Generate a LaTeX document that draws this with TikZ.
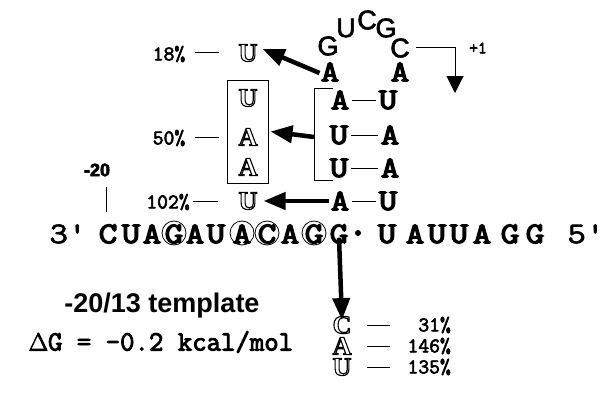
\documentclass[tikz,border=0pt]{standalone}
\usepackage{fontspec}
\setmainfont{Liberation Serif}
\newfontfamily\sansf{Liberation Sans}
\usetikzlibrary{arrows.meta}
% text render modes: 1 = outline only, 2 = fill + stroke (heavier letters)
\newcommand\rmode[3]{\special{pdf:literal direct #1 Tr #2 w}#3\special{pdf:literal direct 0 Tr 1 w}}
\newcommand\hollow[1]{\rmode{1}{1.1}{#1}}
\newcommand\heavy[1]{\scalebox{1.2}[1]{\rmode{2}{1.2}{#1}}}
\newcommand\semi[1]{\rmode{2}{0.6}{#1}}
\tikzset{
  seq/.style={font=\ttfamily\fontsize{30}{30}\selectfont, inner sep=0pt},
  hol/.style={font=\bfseries\fontsize{26}{26}\selectfont, inner sep=0pt},
  pct/.style={font=\ttfamily\fontsize{21}{21}\selectfont, inner sep=0pt},
  looplet/.style={font=\sansf\fontsize{27}{27}\selectfont, inner sep=0pt},
  fat/.style={line width=4.5pt, -{Triangle[length=22pt,width=17pt]}},
  thinline/.style={line width=1pt},
}
\begin{document}
\begin{tikzpicture}[x=1pt,y=-1pt]
\useasboundingbox (0,0) rectangle (607,396);

% ---- hairpin loop ----
\node[seq] (la1) at (330,72) {\heavy{A}};
\node[seq] (la2) at (400,72) {\heavy{A}};
\node[looplet] (lg1) at (328,46) {\semi{G}};
\node[looplet] (lu)  at (346,28) {\semi{U}};
\node[looplet] (lc1) at (367,20) {\semi{C}};
\node[looplet] (lg2) at (386,28) {\semi{G}};
\node[looplet] (lc2) at (400,48) {\semi{C}};

% +1 start marker
\coordinate (tss) at (455,93);
\draw[thinline, -{Triangle[length=17pt,width=17pt]}] ([xshift=6pt]lc2.east) -| (tss);
\node[font=\ttfamily\fontsize{17}{17}\selectfont, inner sep=0pt] (plus) at (478,48) {\semi{+1}};

% ---- stem ----
\node[seq] (h1a) at (340,100) {\heavy{A}}; \node[seq] (h1b) at (388,100) {\heavy{U}};
\node[seq] (h2a) at (339,135) {\heavy{U}}; \node[seq] (h2b) at (390,135) {\heavy{A}};
\node[seq] (h3a) at (339,168) {\heavy{U}}; \node[seq] (h3b) at (390,168) {\heavy{A}};
\node[seq] (h4a) at (340,201) {\heavy{A}}; \node[seq] (h4b) at (388,201) {\heavy{U}};
\foreach \r in {1,2,3,4}
  \draw[thinline] ([xshift=3pt]h\r a.east) -- ([xshift=-3pt]h\r b.west);

% bracket over the three middle pairs
\coordinate (brk) at (314,137);
\draw[thinline] (333,88) -| (314,180) -- (333,180);

% ---- substituted bases ----
\node[hol] (topU) at (248,53) {\hollow{U}};
\node[draw, thinline, minimum width=41pt, minimum height=103pt, inner sep=0pt] (box) at (247.5,131.5) {};
\node[hol] (bu) at (248,98) {\hollow{U}};
\node[hol] (ba1) at (248,137) {\hollow{A}};
\node[hol] (ba2) at (248,167) {\hollow{A}};
\node[hol] (lowU) at (248,201) {\hollow{U}};

\draw[fat] ([xshift=-1pt,yshift=-1pt]la1.west) -- ([xshift=5pt,yshift=4pt]topU.east);
\draw[fat] (brk) -- ([xshift=2pt]box.east);
\draw[fat] ([xshift=-2pt]h4a.west) -- ([xshift=6pt]lowU.east);

% percentages on the left
\node[pct] (p18) at (169,54) {\semi{18\%}};
\draw[thinline] (195,53) -- (219,53);
\node[pct] (p50) at (169,138) {\semi{50\%}};
\draw[thinline] (195,137) -- (219,137);
\node[pct] (p102) at (168,202) {\semi{102\%}};
\draw[thinline] (193,201) -- (218,201);

% -20 position mark
\node[font=\sansf\bfseries\fontsize{18}{18}\selectfont, inner sep=0pt] (m20) at (97,170) {\semi{-20}};
\draw[thinline] (106,187) -- (106,212);

% ---- template strand ----
\node[seq] (t3) at (68,234) {\scalebox{1.2}[1]{\semi{3'}}};
\node[seq] (s1)  at (108,234) {\heavy{C}};
\node[seq] (s2)  at (131,234) {\heavy{U}};
\node[seq] (s3)  at (152,234) {\heavy{A}};
\node[seq] (s4)  at (174,234) {\heavy{G}};
\node[seq] (s5)  at (195,234) {\heavy{A}};
\node[seq] (s6)  at (216,234) {\heavy{U}};
\node[seq] (s7)  at (242,234) {\heavy{A}};
\node[seq] (s8)  at (267,234) {\heavy{C}};
\node[seq] (s9)  at (290,234) {\heavy{A}};
\node[seq] (s10) at (314,234) {\heavy{G}};
\node[seq] (s11) at (339,234) {\heavy{G}};
\fill (358,233) circle[radius=3pt];
\node[seq] (r1) at (387,234) {\heavy{U}};
\node[seq] (r2) at (415,234) {\heavy{A}};
\node[seq] (r3) at (437,234) {\heavy{U}};
\node[seq] (r4) at (459,234) {\heavy{U}};
\node[seq] (r5) at (482,234) {\heavy{A}};
\node[seq] (r6) at (510,234) {\heavy{G}};
\node[seq] (r7) at (535,234) {\heavy{G}};
\node[seq] (t5) at (586,234) {\scalebox{1.2}[1]{\semi{5'}}};
\foreach \c in {s4,s7,s8,s10}
  \draw[line width=0.8pt] ([yshift=1pt]\c.center) circle[radius=12pt];

% ---- incoming nucleotide at +1 ----
\node[hol] (oc) at (342,325) {\hollow{C}};
\node[hol] (oa) at (342,346) {\hollow{A}};
\node[hol] (ou) at (342,367) {\hollow{U}};
\draw[fat] ([yshift=6pt]s11.south) -- ([yshift=-4pt]oc.north);
\node[pct, anchor=east] (q31)  at (451,325) {\semi{31\%}};
\node[pct, anchor=east] (q146) at (451,346) {\semi{146\%}};
\node[pct, anchor=east] (q135) at (451,367) {\semi{135\%}};
\draw[thinline] (367,325) -- (390,325);
\draw[thinline] (367,346) -- (390,346);
\draw[thinline] (367,367) -- (390,367);

% ---- caption ----
\node[font=\sansf\bfseries\fontsize{27}{27}\selectfont, inner sep=0pt] (ttl) at (162,306) {-20/13 template};
\node[font=\ttfamily\fontsize{28}{28}\selectfont\addfontfeature{LetterSpace=9}, inner sep=0pt] (dg) at (161,342) {\rmode{2}{0.9}{$\Delta$G = -0.2 kcal/mol}};
\end{tikzpicture}
\end{document}
